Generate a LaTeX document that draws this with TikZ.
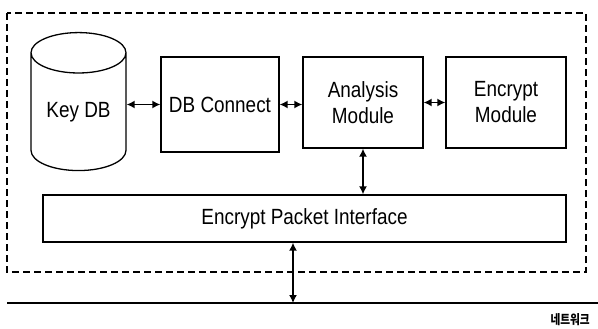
\documentclass[tikz,border=0pt]{standalone}
\usepackage{fontspec}
\setmainfont{Liberation Sans}
\newfontfamily\boxfont[FakeStretch=0.86]{Liberation Sans}
\newfontfamily\krfont[FakeStretch=0.82]{Noto Sans CJK KR}
\usetikzlibrary{shapes.geometric,arrows.meta,positioning}

\begin{document}
\begin{tikzpicture}[%
        x=1pt, y=-1pt,
        >={Latex[length=8pt,width=8pt]},
        box/.style={draw, line width=1.3pt, minimum width=120pt,
            minimum height=91pt, align=center, inner sep=0pt,
            font=\boxfont\fontsize{22}{26}\selectfont},
        link/.style={<->, line width=1.5pt}
        ]
        \useasboundingbox (0,0) rectangle (598,329);

        % outer frame
        \draw[line width=1.6pt, dash pattern=on 7pt off 4pt] (7,13) rectangle (586,272);

        \node[cylinder, shape border rotate=90, aspect=0.63, draw,
            line width=1.3pt, minimum width=95pt, minimum height=138pt,
            inner sep=0pt, font=\boxfont\fontsize{22}{26}\selectfont] (keydb) at (78.5,112) {Key DB};
        \node[box, minimum width=118pt, minimum height=95pt] (dbconn) at (220,104.5) {DB Connect};
        \node[box] (analysis) at (363,102.5) {Analysis\\Module};
        \node[box] (encrypt) at (506,102.5) {Encrypt\\Module};
        \node[box, minimum width=523pt, minimum height=47pt] (epi) at (304.5,218.5) {Encrypt Packet Interface};

        % network
        \coordinate (netL) at (7,303);
        \coordinate (netR) at (598,303);
        \coordinate (netarrow) at (293,303);
        \draw[line width=1.5pt] (netL) -- (netR);
        \node[anchor=east, inner sep=0pt, font=\krfont\bfseries\fontsize{13}{15}\selectfont] (net) at (590,320) {네트워크};

        \draw[link] (keydb.east |- dbconn.west) -- (dbconn.west);
        \draw[link] (dbconn.east) -- (dbconn.east -| analysis.west);
        \draw[link] (analysis.east) -- (encrypt.west);
        \draw[link] (analysis.south) -- (analysis.south |- epi.north);
        \draw[link] (epi.south -| netarrow) -- (netarrow);

    \end{tikzpicture}
\end{document}
